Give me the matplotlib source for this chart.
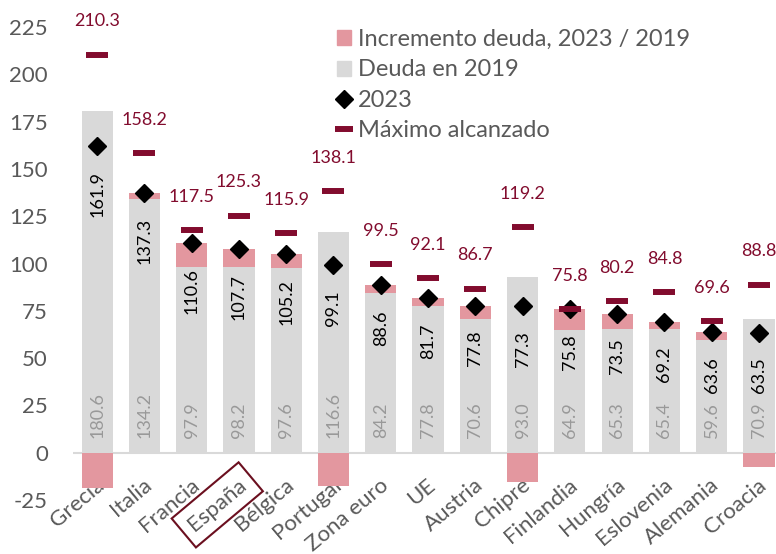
import matplotlib
matplotlib.use('Agg')
import matplotlib.pyplot as plt
from matplotlib.lines import Line2D
from matplotlib.patches import Patch
from matplotlib.transforms import ScaledTranslation
import numpy as np

# Deuda publica (% PIB): 2019, 2023 y maximo alcanzado
paises = ['Grecia', 'Italia', 'Francia', 'España', 'Bélgica', 'Portugal', 'Zona euro', 'UE',
          'Austria', 'Chipre', 'Finlandia', 'Hungría', 'Eslovenia', 'Alemania', 'Croacia']
deuda_2019 = [180.6, 134.2, 97.9, 98.2, 97.6, 116.6, 84.2, 77.8, 70.6, 93.0, 64.9, 65.3, 65.4, 59.6, 70.9]
deuda_2023 = [161.9, 137.3, 110.6, 107.7, 105.2, 99.1, 88.6, 81.7, 77.8, 77.3, 75.8, 73.5, 69.2, 63.6, 63.5]
maximo = [210.3, 158.2, 117.5, 125.3, 115.9, 138.1, 99.5, 92.1, 86.7, 119.2, 75.8, 80.2, 84.8, 69.6, 88.8]
yticks = [-25, 0, 25, 50, 75, 100, 125, 150, 175, 200, 225]

ROSA = '#E3979F'
GRIS = '#D9D9D9'
GRANATE = '#820C2E'
TEXTO = '#595959'

plt.rcParams['font.family'] = ['Lato', 'DejaVu Sans']

x = np.arange(len(paises))
d19 = np.array(deuda_2019)
d23 = np.array(deuda_2023)
incr = d23 - d19
# incremento positivo se apila sobre 2019, negativo se dibuja bajo cero
base_incr = np.where(incr > 0, d19, 0)

fig = plt.figure(figsize=(7.76, 5.54), dpi=100)
ax = fig.add_axes([73/776, 54/554, 1 - 73/776, (500-27)/554])

w = 0.66
ax.bar(x, d19, width=w, color=GRIS, zorder=2)
ax.bar(x, incr, bottom=base_incr, width=w, color=ROSA, zorder=2)
ax.axhline(0, color=GRIS, lw=1.5, zorder=1)
ax.plot(x, d23, linestyle='none', marker='D', ms=9.5, color='black', zorder=4)
ax.plot(x, maximo, linestyle='none', marker='_', ms=16.5, mew=4.3, color=GRANATE, zorder=4)

for i in range(len(paises)):
  ax.annotate(f'{maximo[i]:.1f}', (x[i], maximo[i]), xytext=(0, 24), textcoords='offset points',
              ha='center', va='center', color=GRANATE, fontsize=13)
  ax.annotate(f'{deuda_2019[i]:.1f}', (x[i], 8), ha='center', va='bottom', rotation=90,
              color='#999999', fontsize=13)
  ax.annotate(f'{deuda_2023[i]:.1f}', (x[i], deuda_2023[i]), xytext=(0, -18), textcoords='offset points',
              ha='center', va='top', rotation=90, color='black', fontsize=13)

ax.set_xlim(-0.51, 14.36)
ax.set_ylim(-25, 225)
ax.set_yticks(yticks)
ax.set_yticklabels([str(v) for v in yticks], fontsize=16, color=TEXTO)
ax.tick_params(axis='y', length=0, pad=18)
ax.set_xticks(x)
ax.set_xticklabels(paises, fontsize=16, color=TEXTO, rotation=40, ha='right', va='center',
                   rotation_mode='anchor')
ax.tick_params(axis='x', length=0, pad=0)
off = ScaledTranslation(5/100, 17.5/100, fig.dpi_scale_trans)
for lab in ax.get_xticklabels():
  lab.set_transform(lab.get_transform() + off)
  if lab.get_text() == 'España':
    lab.set_bbox(dict(boxstyle='square,pad=0.4', fc='none', ec='#6B0F1F', lw=1.5))
for s in ax.spines.values():
  s.set_visible(False)

handles = [Patch(color=ROSA), Patch(color=GRIS),
           Line2D([], [], linestyle='none', marker='D', ms=9.5, color='black'),
           Line2D([], [], linestyle='none', marker='_', ms=13, mew=4.3, color=GRANATE)]
etiquetas = ['Incremento deuda, 2023 / 2019', 'Deuda en 2019', '2023', 'Máximo alcanzado']
leg = fig.legend(handles, etiquetas, loc='upper left', bbox_to_anchor=(337/776, 1 - 29/554),
                 frameon=False, fontsize=17, handlelength=0.6, handleheight=0.6, handletextpad=0.3,
                 labelspacing=0.4, borderpad=0, borderaxespad=0)
for t in leg.get_texts():
  t.set_color(TEXTO)

fig.savefig('out.png', dpi=100)
